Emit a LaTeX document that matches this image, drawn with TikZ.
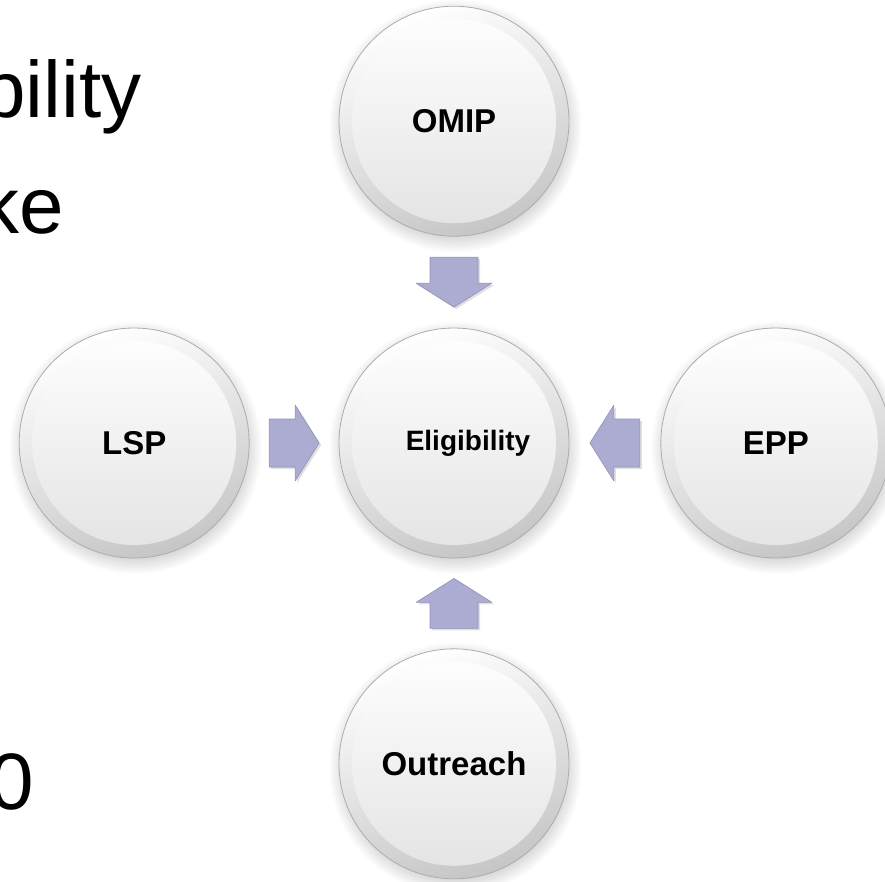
\documentclass[tikz,border=0pt]{standalone}
\usepackage{fontspec}
\usetikzlibrary{positioning,calc,shadows}
\newfontfamily\arialfont{Liberation Sans}
\definecolor{arrowfill}{RGB}{172,172,210}
\definecolor{arrowedge}{RGB}{145,145,185}
\tikzset{
    bubble/.style={circle, minimum size=230pt, inner sep=0pt, draw=gray!65, line width=0.8pt,
        top color=white, bottom color=gray!45, shading angle=20,
        circular drop shadow={shadow xshift=1pt, shadow yshift=-4pt, opacity=0.35},
        font=\arialfont\bfseries\fontsize{33}{38}\selectfont,
        path picture={\shade[top color=white, bottom color=gray!22] (path picture bounding box.center) circle (102pt);}},
    blockarrow/.style={fill=arrowfill, draw=arrowedge, line width=0.6pt, line join=round,
        drop shadow={shadow xshift=2pt, shadow yshift=-2pt, opacity=0.25}},
    slidetext/.style={anchor=base east, font=\arialfont\fontsize{80}{96}\selectfont}
}
\begin{document}
\begin{tikzpicture}[x=1pt, y=-1pt]
    \useasboundingbox (0,0) rectangle (885,881);
    \clip (0,0) rectangle (885,881);

    \node[slidetext] (line1) at (145,117) {bility};
    \node[slidetext] (line2) at (68,233) {ke};
    \node[slidetext] (line3) at (38,809) {0};

    \node[bubble, font=\arialfont\bfseries\fontsize{28}{32}\selectfont] (elig) at (454,443) {\hspace*{28pt}Eligibility};
    \node[bubble, above=91pt of elig] (omip) {OMIP};
    \node[bubble, left=89pt of elig] (lsp) {LSP};
    \node[bubble, right=91pt of elig] (epp) {EPP};
    \node[bubble, below=90pt of elig] (outreach) {Outreach};

    \foreach \src/\ang in {omip/-90, lsp/0, epp/180, outreach/90}
        \draw[blockarrow, shift={($(\src)!0.5!(elig)$)}, rotate=\ang]
            (-25,-24) -- (1,-24) -- (1,-38) -- (25,0) -- (1,38) -- (1,24) -- (-25,24) -- cycle;
\end{tikzpicture}
\end{document}
